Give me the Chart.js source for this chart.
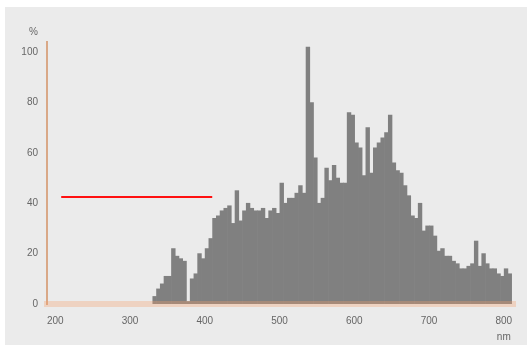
<!DOCTYPE html>
<html>
<head>
<meta charset="utf-8">
<script src="https://cdn.jsdelivr.net/npm/chart.js@4"></script>
<style>
  html, body { margin: 0; padding: 0; background: #fff; }
  #wrap { position: absolute; left: 5px; top: 7px; width: 522px; height: 338px; background: #ebebeb; }
</style>
</head>
<body>
<div id="wrap"><canvas id="chart" width="522" height="338"></canvas></div>
<script>
// wavelength bins (nm), bar heights (%)
const wavelengths = [
    333, 338, 343, 348, 353, 358, 363, 368, 373, 378,
    383, 388, 393, 398, 403, 408, 413, 418, 423, 428,
    433, 438, 443, 448, 453, 458, 463, 468, 473, 478,
    483, 488, 493, 498, 503, 508, 513, 518, 523, 528,
    533, 538, 543, 548, 553, 558, 563, 568, 573, 578,
    583, 588, 593, 598, 603, 608, 613, 618, 623, 628,
    633, 638, 643, 648, 653, 658, 663, 668, 673, 678,
    683, 688, 693, 698, 703, 708, 713, 718, 723, 728,
    733, 738, 743, 748, 753, 758, 763, 768, 773, 778,
    783, 788, 793, 798, 803, 808
];
const intensity = [
    3, 6, 8, 11, 11, 22, 19, 18, 17, 1,
    10, 12, 20, 18, 22, 26, 34, 35, 37, 38,
    39, 32, 45, 33, 37, 40, 38, 37, 37, 38,
    34, 37, 38, 36, 48, 40, 42, 42, 44, 47,
    44, 102, 80, 58, 40, 42, 54, 49, 55, 50,
    48, 48, 76, 75, 64, 62, 51, 70, 52, 62,
    64, 66, 68, 75, 56, 53, 52, 47, 43, 35,
    34, 40, 29, 31, 31, 27, 21, 22, 19, 19,
    17, 16, 14, 14, 15, 16, 25, 15, 20, 16,
    14, 14, 12, 11, 14, 12
];
// red reference line
const markX = [208, 410];
const markY = [42.5, 42.5];

const xTicks = [200, 300, 400, 500, 600, 700, 800];
const yTicks = [0, 20, 40, 60, 80, 100];

const tickFont = { family: '"Liberation Sans", Arial, sans-serif', size: 10 };

// unit labels "%" and "nm"
const unitLabels = {
    id: 'unitLabels',
    afterDraw(chart) {
        const c = chart.ctx;
        const x = chart.scales.x;
        const y = chart.scales.y;
        c.save();
        c.font = '10px "Liberation Sans", Arial, sans-serif';
        c.fillStyle = '#666';
        c.textBaseline = 'middle';
        c.textAlign = 'right';
        c.fillText('%', y.right - 9, y.getPixelForValue(100) - 20);
        c.textAlign = 'center';
        c.fillText('nm', x.getPixelForValue(800), x.top + 33);
        c.restore();
    }
};

new Chart(document.getElementById('chart'), {
    data: {
        datasets: [
            {
                type: 'bar',
                data: wavelengths.map((w, i) => ({ x: w, y: intensity[i] })),
                backgroundColor: '#808080',
                borderWidth: 0,
                barPercentage: 1,
                categoryPercentage: 1
            },
            {
                type: 'line',
                data: markX.map((w, i) => ({ x: w, y: markY[i] })),
                borderColor: '#ff1010',
                borderWidth: 2,
                pointRadius: 0
            }
        ]
    },
    options: {
        responsive: false,
        animation: false,
        layout: { padding: { top: 35, right: 12, left: 0, bottom: 0 } },
        plugins: {
            legend: { display: false },
            tooltip: { enabled: false }
        },
        scales: {
            x: {
                type: 'linear',
                min: 189,
                max: 815,
                offset: false,
                grid: { display: false, drawTicks: false },
                // band drawn over the bar bottoms
                border: { display: true, color: 'rgba(245,160,105,0.32)', width: 6, z: 1 },
                afterBuildTicks: s => { s.ticks = xTicks.map(v => ({ value: v })); },
                afterFit: s => { s.height = 41; },
                ticks: { autoSkip: false, maxRotation: 0, padding: 11, color: '#666', font: tickFont }
            },
            y: {
                min: 0,
                max: 104,
                grid: { display: false, drawTicks: false },
                border: { display: true, color: '#d9a887', width: 2 },
                afterBuildTicks: s => { s.ticks = yTicks.map(v => ({ value: v })); },
                afterFit: s => { s.width = 42; },
                ticks: { padding: 9, color: '#666', font: tickFont }
            }
        }
    },
    plugins: [unitLabels]
});
</script>
</body>
</html>
